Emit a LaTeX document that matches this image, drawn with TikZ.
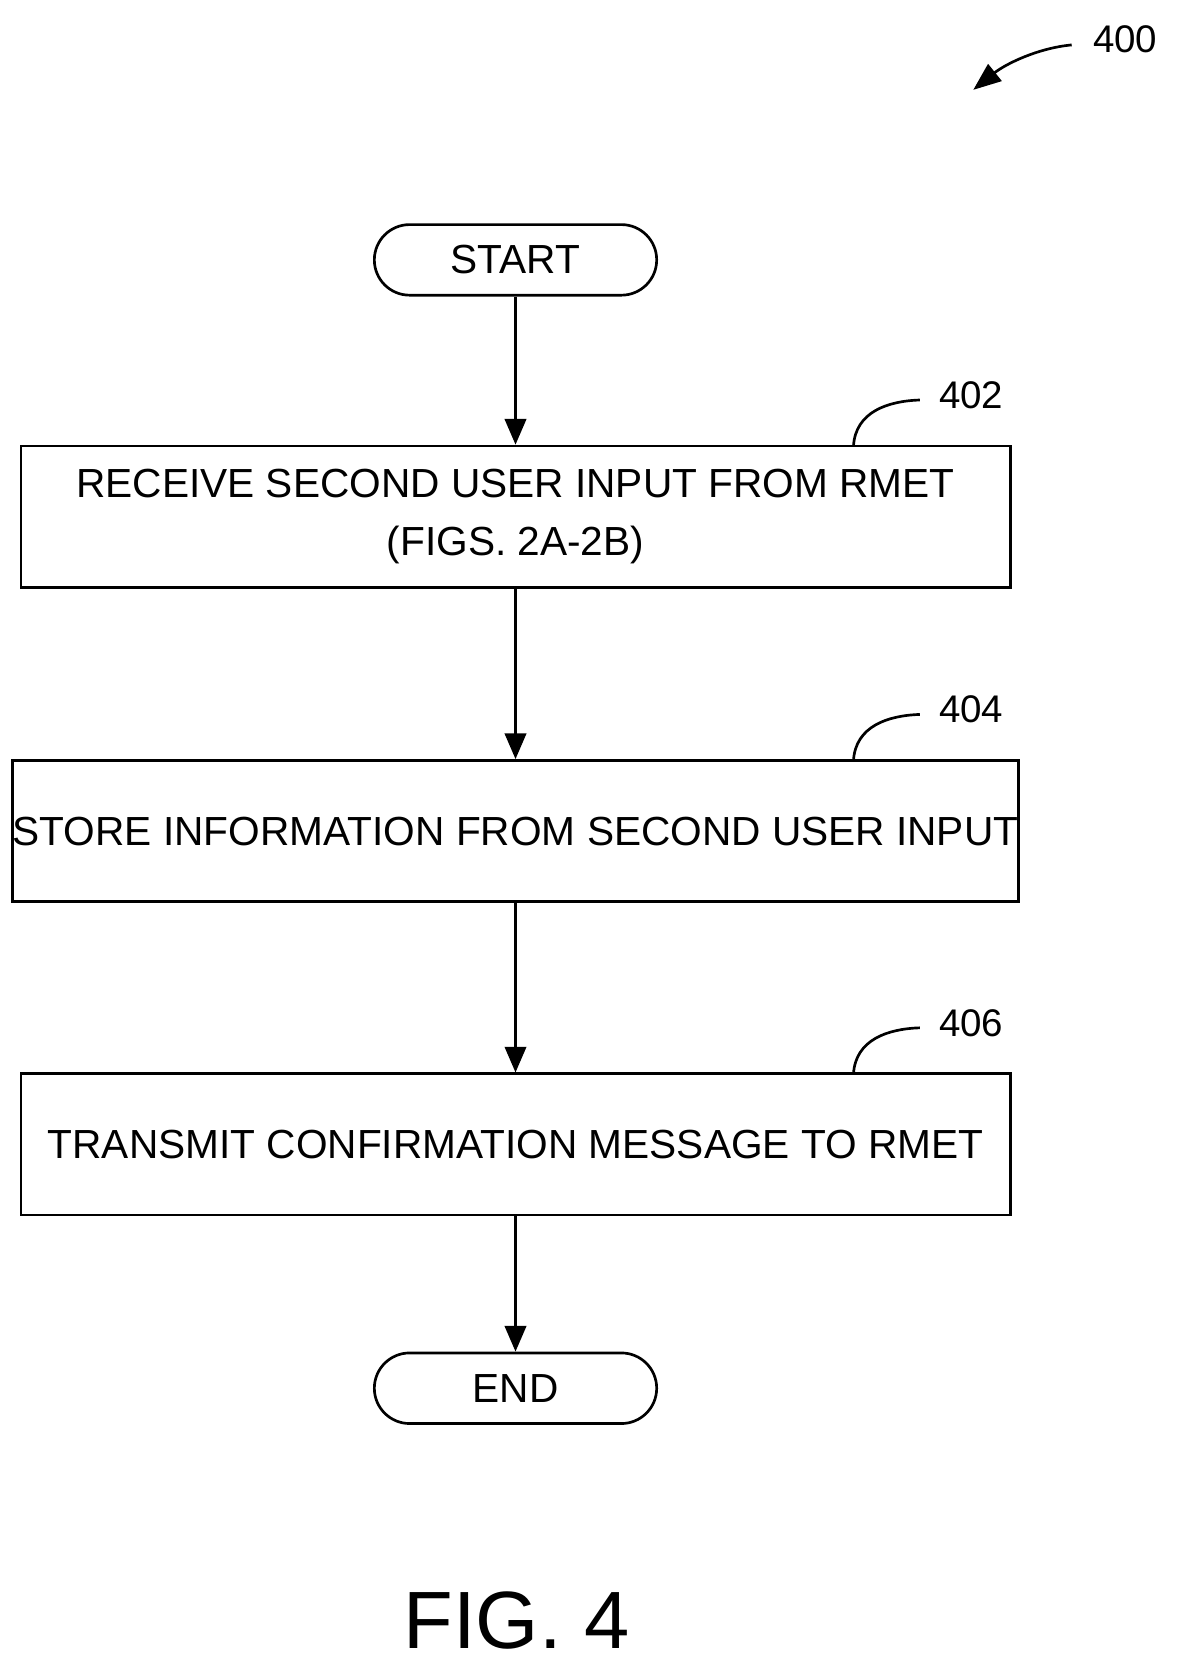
\documentclass[tikz,border=0pt]{standalone}
\usepackage{fontspec}
\setmainfont{Liberation Sans}
\usetikzlibrary{arrows.meta}
\begin{document}
\begin{tikzpicture}[x=1pt,y=-1pt,
  box/.style={draw,line width=2.5pt,minimum width=925pt,minimum height=132pt,align=center,font=\fontsize{38}{54}\selectfont,inner sep=0pt},
  term/.style={draw,line width=2.5pt,rounded corners=33pt,minimum width=264pt,minimum height=66pt,font=\fontsize{38}{44}\selectfont,inner sep=0pt},
  arr/.style={line width=2.5pt,-{Triangle[length=24pt,width=20pt]}},
  lbl/.style={font=\fontsize{36}{40}\selectfont},
  lead/.style={line width=2.5pt}]
\useasboundingbox (0,0) rectangle (1100,1568);
\node[term] (start) at (482,243) {START};
\node[box] (b402) at (482,483) {RECEIVE SECOND USER INPUT FROM RMET\\(FIGS. 2A-2B)};
\node[box] (b404) at (482,777) {STORE INFORMATION FROM SECOND USER INPUT};
\node[box] (b406) at (482,1070) {TRANSMIT CONFIRMATION MESSAGE TO RMET};
\node[term] (end) at (482,1298) {END};
\draw[arr] (start) -- (b402);
\draw[arr] (b402) -- (b404);
\draw[arr] (b404) -- (b406);
\draw[arr] (b406) -- (end);
\node[lbl] (l402) at (908,370) {402};
\node[lbl] (l404) at (908,663) {404};
\node[lbl] (l406) at (908,957) {406};
\coordinate (c402) at (798,417);
\coordinate (c404) at (798,711);
\coordinate (c406) at (798,1004);
\draw[lead] (c402) .. controls (800,385) and (830,375) .. (860,374);
\draw[lead] (c404) .. controls (800,679) and (830,669) .. (860,668);
\draw[lead] (c406) .. controls (800,972) and (830,962) .. (860,961);
\node[lbl] (l400) at (1052,37) {400};
\coordinate (a0) at (1002,42);
\coordinate (a1) at (910,84);
\draw[line width=2.5pt,-{Triangle[length=26pt,width=20pt]}] (a0) .. controls (970,45) and (940,60) .. (a1);
\node[font=\fontsize{76}{80}\selectfont] (fig) at (483,1515) {FIG. 4};
\end{tikzpicture}
\end{document}
